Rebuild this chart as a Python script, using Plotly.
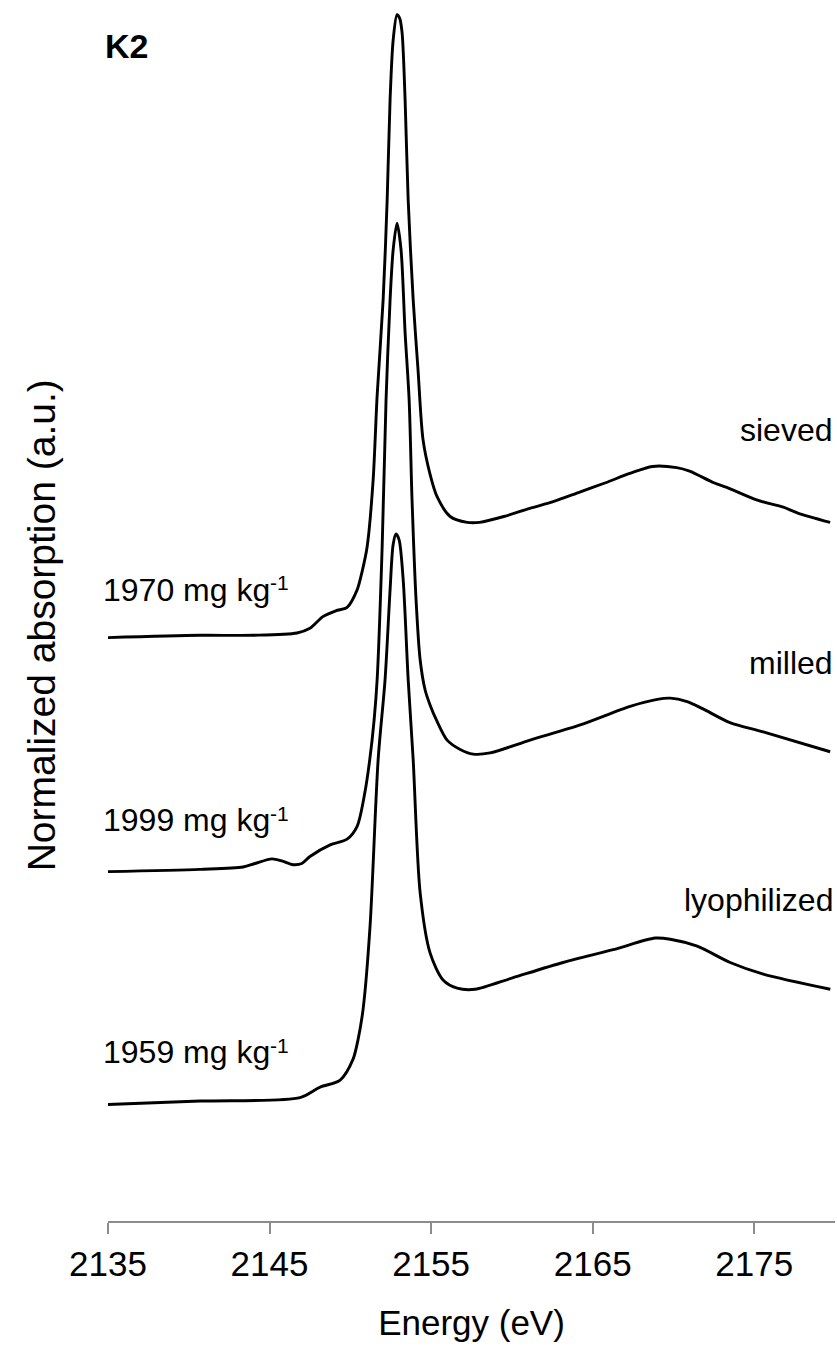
import plotly.graph_objects as go

# S K-edge XANES spectra of sample K2, stacked with vertical offsets
sieved_energy = [2135.0, 2140.7, 2144.0, 2146.7, 2147.5, 2148.3, 2149.1, 2149.8, 2150.42, 2150.75,
                 2151.04, 2151.41, 2151.66, 2152.03, 2152.28, 2152.46, 2152.65, 2152.89, 2153.05, 2153.2,
                 2153.39, 2153.58, 2153.89, 2154.19, 2154.5, 2154.94, 2155.37, 2156.18, 2157.23, 2158.0,
                 2159.5, 2161.1, 2162.6, 2164.2, 2165.8, 2167.3, 2168.7, 2170.2, 2171.0, 2172.5,
                 2173.3, 2175.2, 2176.8, 2177.7, 2179.7]
sieved_abs = [0.01, 0.03, 0.03, 0.05, 0.09, 0.19, 0.24, 0.27, 0.42, 0.59,
              0.79, 1.36, 2.09, 2.91, 3.77, 4.63, 5.14, 5.36, 5.33, 5.21,
              4.63, 3.77, 2.91, 2.31, 1.71, 1.41, 1.22, 1.05, 1.00, 1.00,
              1.05, 1.12, 1.18, 1.26, 1.34, 1.42, 1.48, 1.47, 1.44, 1.34,
              1.30, 1.19, 1.13, 1.08, 1.00]

milled_energy = [2135.0, 2140.7, 2143.36, 2144.1, 2145.15, 2145.8, 2146.45, 2147.0, 2147.5, 2148.75,
                 2149.8, 2150.42, 2150.9, 2151.2, 2151.47, 2151.66, 2151.97, 2152.21, 2152.46, 2152.65,
                 2152.89, 2153.14, 2153.39, 2153.64, 2153.82, 2154.07, 2154.32, 2154.63, 2154.94, 2155.37,
                 2155.99, 2156.8, 2157.6, 2158.65, 2161.13, 2164.23, 2167.32, 2169.0, 2169.8, 2170.85,
                 2171.8, 2173.5, 2175.56, 2179.7]
milled_abs = [0.00, 0.02, 0.04, 0.07, 0.11, 0.09, 0.06, 0.07, 0.13, 0.23,
              0.28, 0.39, 0.68, 0.96, 1.30, 1.65, 2.79, 4.05, 4.91, 5.34,
              5.57, 5.34, 4.63, 4.05, 3.19, 2.33, 1.82, 1.56, 1.43, 1.29,
              1.13, 1.05, 1.01, 1.02, 1.13, 1.26, 1.42, 1.48, 1.49, 1.46,
              1.40, 1.28, 1.20, 1.03]

lyophilized_energy = [2135.0, 2140.7, 2146.89, 2148.13, 2149.37, 2150.17, 2150.48, 2150.79, 2151.22, 2151.72,
                      2152.15, 2152.46, 2152.65, 2152.83, 2153.02, 2153.27, 2153.58, 2153.89, 2154.32, 2154.94,
                      2155.74, 2156.61, 2157.72, 2160.08, 2163.17, 2166.27, 2168.87, 2169.8, 2171.47, 2173.51,
                      2175.56, 2179.71]
lyophilized_abs = [0.00, 0.03, 0.06, 0.15, 0.21, 0.39, 0.56, 0.82, 1.53, 2.96,
                   3.65, 4.42, 4.81, 4.90, 4.85, 4.51, 3.65, 2.96, 1.82, 1.30,
                   1.07, 1.00, 0.99, 1.09, 1.22, 1.33, 1.43, 1.42, 1.36, 1.22,
                   1.12, 0.99]

sample_names = ["sieved", "milled", "lyophilized"]
concentrations = ["1970", "1999", "1959"]
offsets = [5.0, 3.0, 1.0]

x_ticks = [2135, 2145, 2155, 2165, 2175]

FONT = "Arial, Liberation Sans, sans-serif"

spectra = [
    (sieved_energy, sieved_abs),
    (milled_energy, milled_abs),
    (lyophilized_energy, lyophilized_abs),
]

fig = go.Figure()
for (energy, absorption), name, off in zip(spectra, sample_names, offsets):
    fig.add_trace(go.Scatter(
        x=energy,
        y=[v + off for v in absorption],
        mode="lines",
        name=name,
        line=dict(color="black", width=2.9, shape="spline", smoothing=0.8),
        hoverinfo="skip",
        showlegend=False,
    ))

annotations = []
# sample labels at the right end of each spectrum
label_heights = [6.79, 4.79, 2.76]
for name, ly in zip(sample_names, label_heights):
    annotations.append(dict(
        x=0.9995, y=ly, xref="paper", yref="y", text=name, showarrow=False,
        xanchor="right", yanchor="middle",
        font=dict(family=FONT, size=32, color="black"),
    ))
# S concentration labels on the left, unit exponent set as a raised smaller text
conc_heights = [5.42, 3.44, 1.45]
for conc, cy in zip(concentrations, conc_heights):
    annotations.append(dict(
        x=-0.0095, y=cy, xref="paper", yref="y", text=f"{conc} mg kg",
        showarrow=False, xanchor="left", yanchor="middle",
        font=dict(family=FONT, size=32, color="black"),
    ))
    annotations.append(dict(
        x=0.2205, y=cy + 0.06, xref="paper", yref="y", text="-1",
        showarrow=False, xanchor="left", yanchor="middle",
        font=dict(family=FONT, size=21, color="black"),
    ))
# panel tag
annotations.append(dict(
    x=-0.007, y=10.09, xref="paper", yref="y", text="<b>K2</b>", showarrow=False,
    xanchor="left", yanchor="middle",
    font=dict(family=FONT, size=34, color="black"),
))
# y-axis title
annotations.append(dict(
    x=-0.092, y=0.492, xref="paper", yref="paper", text="Normalized absorption (a.u.)",
    showarrow=False, textangle=-90, xanchor="center", yanchor="middle",
    font=dict(family=FONT, size=39, color="black"),
))

fig.update_layout(
    width=837, height=1349,
    margin=dict(l=108, r=2, t=10, b=128),
    paper_bgcolor="white", plot_bgcolor="white",
    annotations=annotations,
    xaxis=dict(
        range=[2135, 2180], tickvals=x_ticks, ticktext=[str(t) for t in x_ticks],
        showline=True, linecolor="#8c8c8c", linewidth=2,
        ticks="outside", ticklen=11, tickwidth=2, tickcolor="#8c8c8c",
        showgrid=False, zeroline=False,
        tickfont=dict(family=FONT, size=35, color="black"),
        title=dict(text="Energy (eV)", font=dict(family=FONT, size=35, color="black"), standoff=28),
    ),
    yaxis=dict(
        range=[0, 10.4], showline=False, showgrid=False, zeroline=False,
        showticklabels=False, ticks="",
    ),
)

fig.write_html("out.html")
